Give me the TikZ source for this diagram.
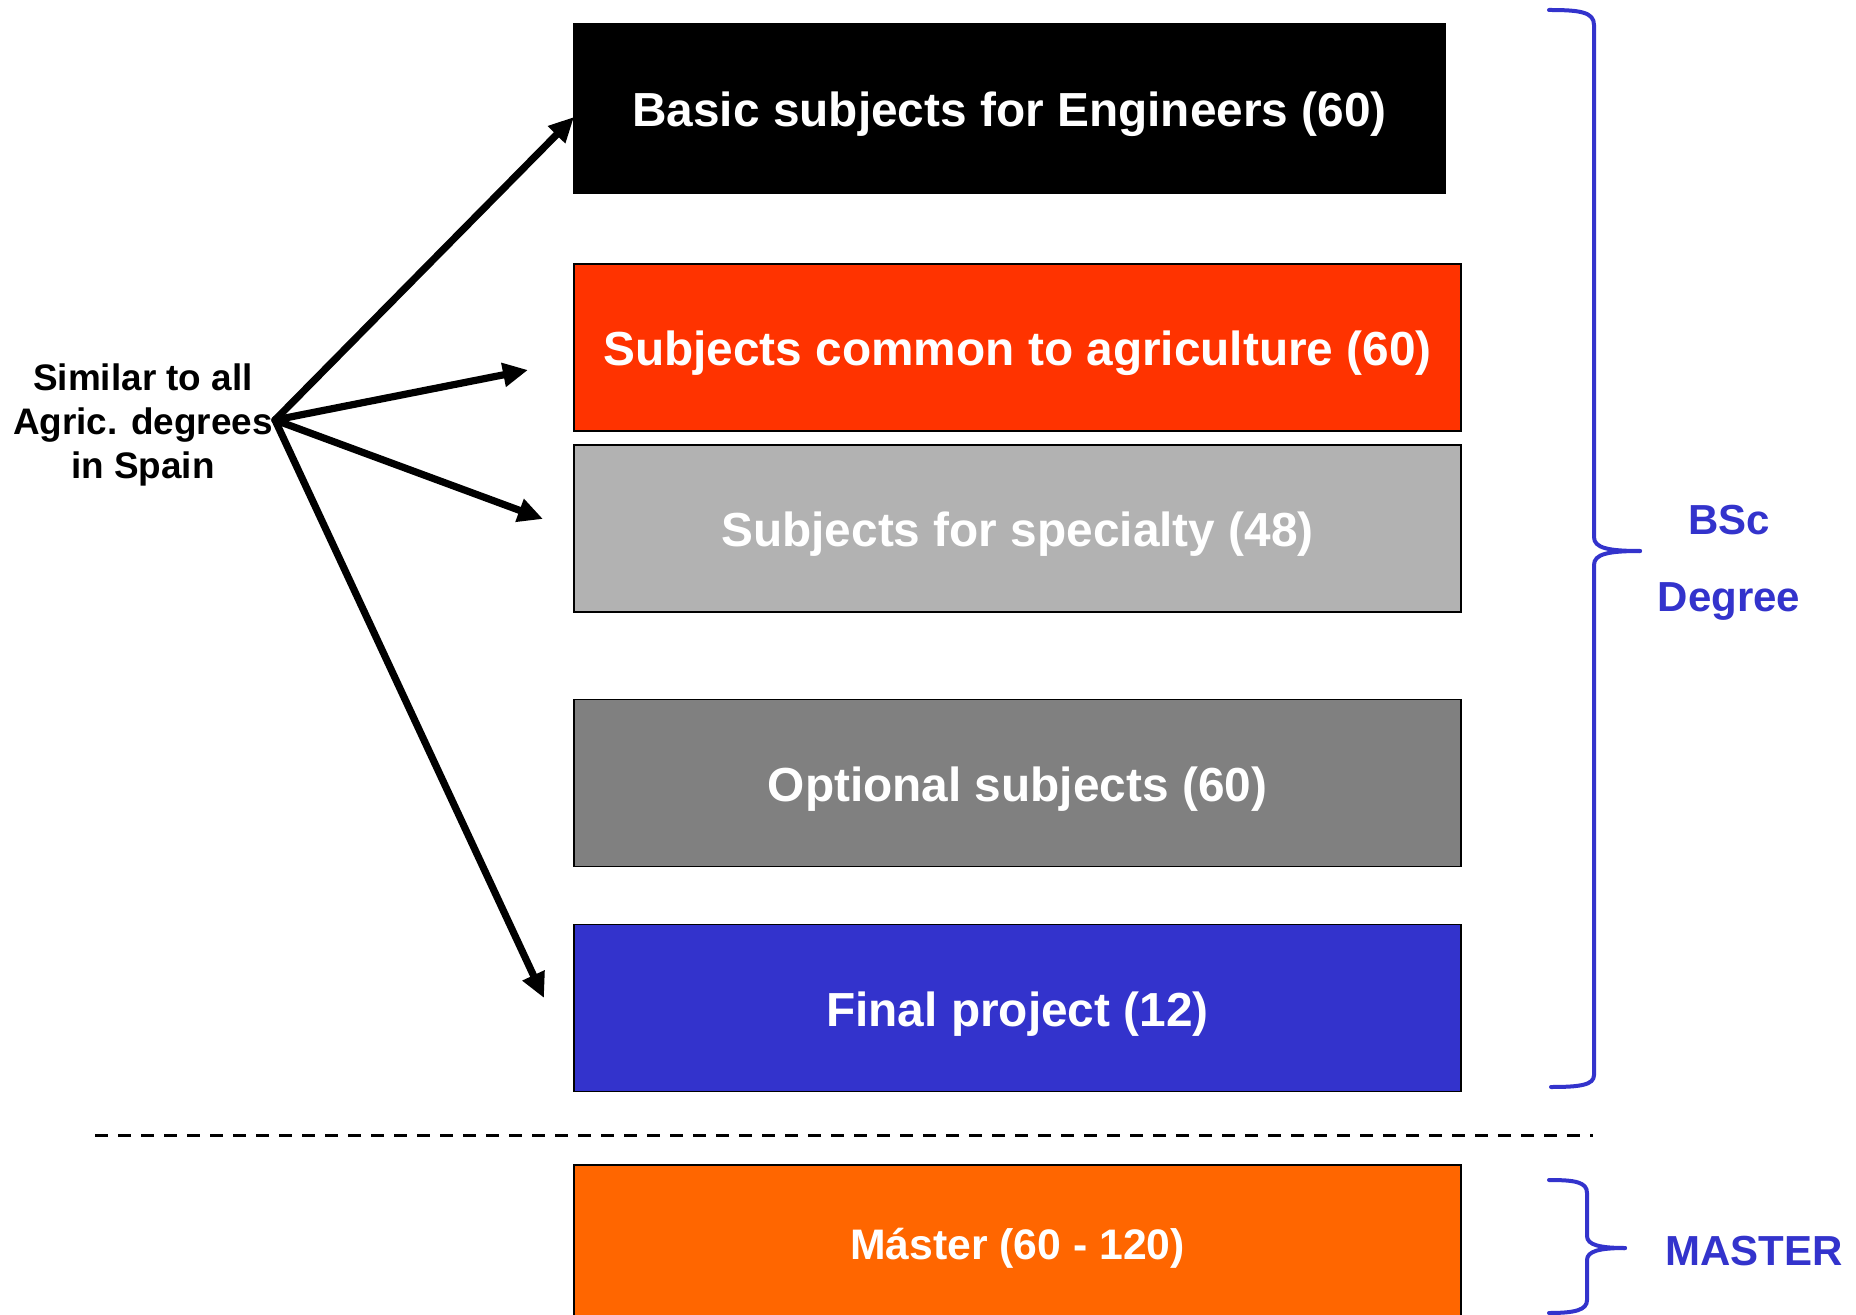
\documentclass[tikz,border=0pt]{standalone}
\usepackage{fontspec}
\setmainfont{Liberation Sans}
\usetikzlibrary{arrows.meta}
\definecolor{redbox}{HTML}{FF3300}
\definecolor{lgray}{HTML}{B2B2B2}
\definecolor{dgray}{HTML}{808080}
\definecolor{bluebox}{HTML}{3333CC}
\definecolor{orangebox}{HTML}{FF6600}
\definecolor{labelblue}{HTML}{3333CC}
\begin{document}
\begin{tikzpicture}[x=0.5pt,y=-0.5pt,
  subj/.style={rectangle, draw=black, line width=0.75pt, inner sep=0pt, text=white,
    minimum width=443.5pt, minimum height=83.5pt, text height=20.4pt, text depth=2pt,
    font=\fontsize{23.9}{28}\selectfont\bfseries},
  arr/.style={line width=3.6pt, line cap=round, -{Triangle[length=12.5pt,width=11.5pt]}},
  brace/.style={draw=labelblue, line width=2pt, line cap=round, line join=round},
  lbl/.style={text=labelblue, font=\fontsize{21}{38.5}\selectfont\bfseries, align=center, inner sep=0pt}]
\useasboundingbox (0,0) rectangle (1856,1315);

% subject boxes
\node[subj, fill=black, minimum width=435.5pt, minimum height=84.5pt] (basic) at (1009.5,108.5) {Basic subjects for Engineers (60)};
\node[subj, fill=redbox] (common) at (1017.5,347.5) {Subjects common to agriculture (60)};
\node[subj, fill=lgray] (spec) at (1017.5,528.5) {Subjects for specialty (48)};
\node[subj, fill=dgray] (opt) at (1017.5,783) {Optional subjects (60)};
\node[subj, fill=bluebox] (final) at (1017.5,1008) {Final project (12)};
\node[subj, fill=orangebox, minimum height=78pt, text height=18.5pt, text depth=1.6pt,
  font=\fontsize{21.35}{25}\selectfont\bfseries] (master) at (1017.5,1243) {Máster (60 - 120)};

% left label
\node[align=center, inner sep=0pt, font=\fontsize{18.45}{22.2}\selectfont\bfseries] (sim) at (143,425) {Similar to all\\Agric. degrees\\in Spain};

% arrows
\coordinate (hub) at (275,420);
\coordinate (t1) at (574,117);
\coordinate (t2) at (528,370);
\coordinate (t3) at (543,519);
\coordinate (t4) at (544,998);
\draw[arr] (hub) -- (t1);
\draw[arr] (hub) -- (t2);
\draw[arr] (hub) -- (t3);
\draw[arr] (hub) -- (t4);

% dashed separator
\coordinate (d1) at (95,1135);
\coordinate (d2) at (1593,1135);
\draw[line width=1.5pt, dash pattern=on 6.5pt off 5pt] (d1) -- (d2);

% BSc brace
\draw[brace] (1549,10) .. controls (1580,10) and (1594,12) .. (1594,25) -- (1594,537)
  .. controls (1594,548) and (1608,551) .. (1640,551);
\draw[brace] (1640,551) .. controls (1608,551) and (1594,554) .. (1594,565) -- (1594,1075)
  .. controls (1594,1085) and (1580,1087) .. (1551,1087);
\node[lbl] (bsc) at (1729,563) {BSc\\Degree};

% MASTER brace
\draw[brace] (1549,1180) .. controls (1575,1180) and (1587,1182) .. (1587,1193) -- (1587,1236)
  .. controls (1587,1245) and (1600,1248) .. (1625,1248);
\draw[brace] (1625,1248) .. controls (1600,1248) and (1587,1251) .. (1587,1260) -- (1587,1300)
  .. controls (1587,1310) and (1575,1313) .. (1549,1313);
\node[lbl] (mst) at (1754,1251) {MASTER};
\end{tikzpicture}
\end{document}
